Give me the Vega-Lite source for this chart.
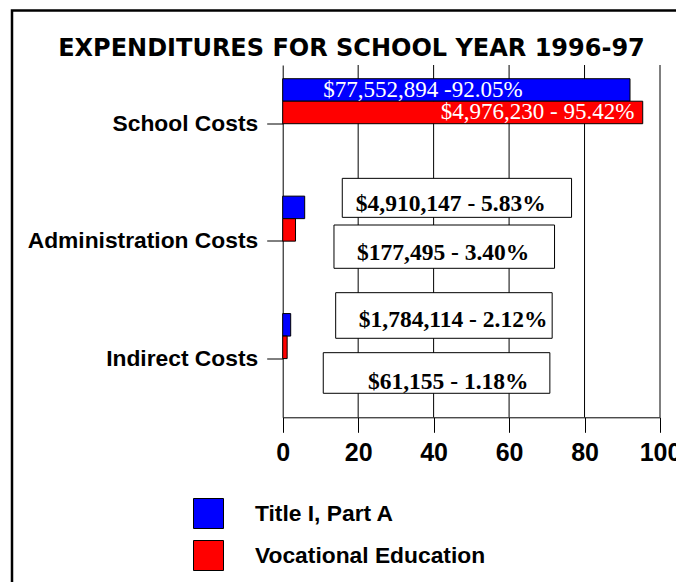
{
  "$schema": "https://vega.github.io/schema/vega-lite/v6.json",
  "autosize": {"type": "none"},
  "padding": {"left": 12, "top": 10.5, "right": -6, "bottom": -6},
  "width": 670,
  "height": 577.5,
  "background": "white",
  "config": {"font": "Liberation Sans", "view": {"stroke": "black", "strokeWidth": 2.5}},
  "title": {"text": "EXPENDITURES FOR SCHOOL YEAR 1996-97", "font": "DejaVu Sans", "fontSize": 24, "fontWeight": "bold", "color": "black", "anchor": "middle", "baseline": "alphabetic", "offset": 0, "dy": 69.7, "dx": 4.5},
  "data": {"values": [
    {"category": "School Costs", "series": "Title I, Part A", "pct": 92.05, "label": "$77,552,894 -92.05%"},
    {"category": "School Costs", "series": "Vocational Education", "pct": 95.42, "label": "$4,976,230 - 95.42%"},
    {"category": "Administration Costs", "series": "Title I, Part A", "pct": 5.83, "label": "$4,910,147 - 5.83%"},
    {"category": "Administration Costs", "series": "Vocational Education", "pct": 3.40, "label": "$177,495 - 3.40%"},
    {"category": "Indirect Costs", "series": "Title I, Part A", "pct": 2.12, "label": "$1,784,114 - 2.12%"},
    {"category": "Indirect Costs", "series": "Vocational Education", "pct": 1.18, "label": "$61,155 - 1.18%"}
  ]},
  "encoding": {
    "y": {"field": "category", "type": "nominal", "sort": ["School Costs", "Administration Costs", "Indirect Costs"],
      "scale": {"domain": ["School Costs", "Administration Costs", "Indirect Costs"], "range": [54.5, 406.8], "paddingInner": 0, "paddingOuter": 0},
      "axis": {"title": null, "orient": "left", "offset": -270.7, "labelFont": "Liberation Sans", "labelFontSize": 22.8, "labelFontWeight": "bold", "labelColor": "black", "labelLimit": 400, "labelPadding": 9, "tickSize": 16, "tickColor": "black", "domainColor": "black", "grid": false}}
  },
  "layer": [
    {
      "data": {"values": [{"tick": 20}, {"tick": 40}, {"tick": 60}, {"tick": 80}, {"tick": 100}]},
      "mark": {"type": "rule", "color": "black", "strokeWidth": 1},
      "encoding": {
        "x": {"field": "tick", "type": "quantitative"},
        "y": {"datum": "School Costs", "bandPosition": 0},
        "y2": {"datum": "Indirect Costs", "bandPosition": 1}
      }
    },
    {
      "mark": {"type": "bar", "stroke": "black", "strokeWidth": 1},
      "encoding": {
        "x": {"field": "pct", "type": "quantitative", "scale": {"domain": [0, 100], "range": [270.7, 648], "nice": false, "zero": true},
          "axis": {"title": null, "orient": "bottom", "offset": -170.7, "values": [0, 20, 40, 60, 80, 100], "grid": false, "tickSize": 15, "tickColor": "black", "domainColor": "black", "labelFont": "Liberation Sans", "labelFontSize": 25, "labelFontWeight": "bold", "labelColor": "black", "labelPadding": 8, "labelFlush": false, "labelOverlap": false}},
        "yOffset": {"field": "series", "type": "nominal", "scale": {"domain": ["Title I, Part A", "Vocational Education", "_pad1", "_pad2"], "paddingInner": 0, "paddingOuter": 0.609}},
        "color": {"field": "series", "type": "nominal", "scale": {"domain": ["Title I, Part A", "Vocational Education"], "range": ["#0000ff", "#ff0000"]},
          "legend": {"title": null, "orient": "none", "legendX": 181, "legendY": 487.5, "symbolType": "square", "symbolSize": 900, "symbolStrokeColor": "black", "symbolStrokeWidth": 1, "labelFont": "Liberation Sans", "labelFontSize": 22.8, "labelFontWeight": "bold", "labelColor": "black", "labelOffset": 31, "rowPadding": 7, "padding": 0, "labelLimit": 400}}
      }
    },
    {
      "transform": [{"filter": "datum.category === 'School Costs' && datum.series === 'Title I, Part A'"}],
      "mark": {"type": "text", "font": "Liberation Serif", "fontSize": 23, "color": "white", "align": "left", "baseline": "middle"},
      "encoding": {"x": {"datum": 10.75}, "yOffset": {"field": "series", "type": "nominal"}, "text": {"field": "label"}}
    },
    {
      "transform": [{"filter": "datum.category === 'School Costs' && datum.series === 'Vocational Education'"}],
      "mark": {"type": "text", "font": "Liberation Serif", "fontSize": 23, "color": "white", "align": "left", "baseline": "middle"},
      "encoding": {"x": {"datum": 41.9}, "yOffset": {"field": "series", "type": "nominal"}, "text": {"field": "label"}}
    },
    {
      "transform": [{"filter": "datum.category === 'Administration Costs' && datum.series === 'Title I, Part A'"}],
      "layer": [
        {"mark": {"type": "bar", "fill": "white", "stroke": "black", "strokeWidth": 1, "height": 39, "yOffset": -43.3}, "encoding": {"x": {"datum": 15.79}, "x2": {"datum": 76.56}}},
        {"mark": {"type": "text", "font": "Liberation Serif", "fontWeight": "bold", "fontSize": 23.5, "color": "black", "align": "center", "baseline": "middle", "dy": -36.9}, "encoding": {"x": {"datum": 44.54}, "text": {"field": "label"}}}
      ]
    },
    {
      "transform": [{"filter": "datum.category === 'Administration Costs' && datum.series === 'Vocational Education'"}],
      "layer": [
        {"mark": {"type": "bar", "fill": "white", "stroke": "black", "strokeWidth": 1, "height": 43.3, "yOffset": 5.5}, "encoding": {"x": {"datum": 13.59}, "x2": {"datum": 72.05}}},
        {"mark": {"type": "text", "font": "Liberation Serif", "fontWeight": "bold", "fontSize": 23.5, "color": "black", "align": "center", "baseline": "middle", "dy": 11.9}, "encoding": {"x": {"datum": 42.54}, "text": {"field": "label"}}}
      ]
    },
    {
      "transform": [{"filter": "datum.category === 'Indirect Costs' && datum.series === 'Title I, Part A'"}],
      "layer": [
        {"mark": {"type": "bar", "fill": "white", "stroke": "black", "strokeWidth": 1, "height": 45.6, "yOffset": -43.1}, "encoding": {"x": {"datum": 14.04}, "x2": {"datum": 71.42}}},
        {"mark": {"type": "text", "font": "Liberation Serif", "fontWeight": "bold", "fontSize": 23.5, "color": "black", "align": "center", "baseline": "middle", "dy": -38.1}, "encoding": {"x": {"datum": 45.16}, "text": {"field": "label"}}}
      ]
    },
    {
      "transform": [{"filter": "datum.category === 'Indirect Costs' && datum.series === 'Vocational Education'"}],
      "layer": [
        {"mark": {"type": "bar", "fill": "white", "stroke": "black", "strokeWidth": 1, "height": 40.6, "yOffset": 14.4}, "encoding": {"x": {"datum": 10.75}, "x2": {"datum": 70.81}}},
        {"mark": {"type": "text", "font": "Liberation Serif", "fontWeight": "bold", "fontSize": 23.5, "color": "black", "align": "center", "baseline": "middle", "dy": 23.9}, "encoding": {"x": {"datum": 43.87}, "text": {"field": "label"}}}
      ]
    }
  ]
}
